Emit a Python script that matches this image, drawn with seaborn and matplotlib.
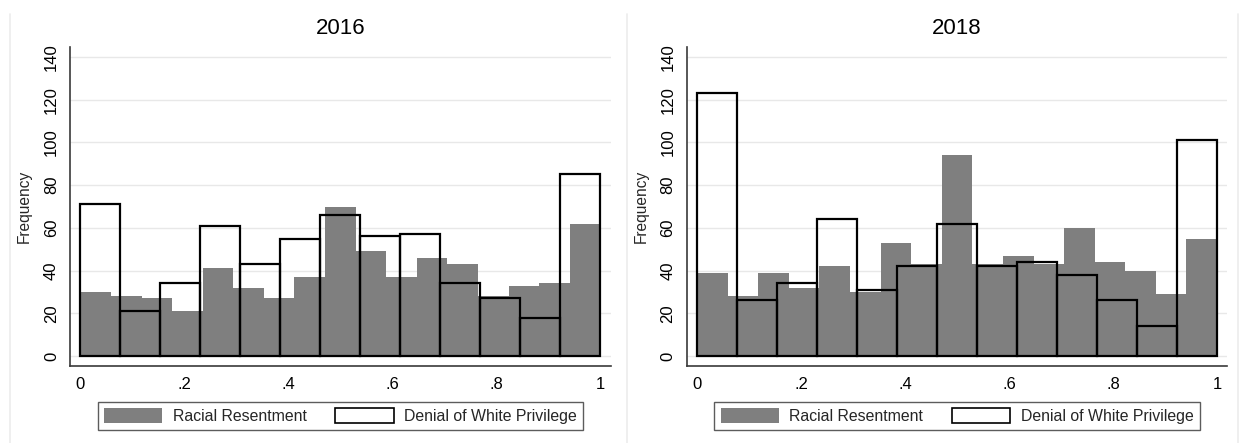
import numpy as np
import pandas as pd
import matplotlib
matplotlib.use("Agg")
import matplotlib.pyplot as plt
from matplotlib.patches import Patch
from matplotlib.lines import Line2D
import seaborn as sns

# ---- data (counts) ----
years = ["2016", "2018"]
rr_2016 = [30, 28, 27, 21, 41, 32, 27, 37, 70, 49, 37, 46, 43, 28, 33, 34, 62]
dwp_2016 = [71, 21, 34, 61, 43, 55, 66, 56, 57, 34, 27, 18, 85]
rr_2018 = [39, 28, 39, 32, 42, 30, 53, 43, 94, 43, 47, 43, 60, 44, 40, 29, 55]
dwp_2018 = [123, 26, 34, 64, 31, 42, 62, 42, 44, 38, 26, 14, 101]
series_labels = ["Racial Resentment", "Denial of White Privilege"]
xtick_vals = [0, 0.2, 0.4, 0.6, 0.8, 1.0]
xtick_labels = ["0", ".2", ".4", ".6", ".8", "1"]
ytick_vals = [0, 20, 40, 60, 80, 100, 120, 140]

sns.set_theme(style="white")
plt.rcParams["font.family"] = ["Liberation Sans", "DejaVu Sans"]

W, H = 1239, 443
fig = plt.figure(figsize=(W / 100, H / 100), dpi=100)

GRAY = "#7f7f7f"
SPINE = "#3a3a3a"

def centers(n):
    edges = np.linspace(0, 1, n + 1)
    return (edges[:-1] + edges[1:]) / 2

panels = [
    (years[0], rr_2016, dwp_2016, 70),
    (years[1], rr_2018, dwp_2018, 686.7),
]

for title, rr, dwp, left_px in panels:
    ax = fig.add_axes([left_px / W, 1 - 366 / H, 540.7 / W, 319 / H])
    ax.set_axisbelow(True)
    ax.yaxis.grid(True, color="#e8e8e8", linewidth=1.0)
    ax.xaxis.grid(False)

    df_rr = pd.DataFrame({"x": centers(len(rr)), "w": rr})
    df_dw = pd.DataFrame({"x": centers(len(dwp)), "w": dwp})
    sns.histplot(data=df_rr, x="x", weights="w", bins=len(rr), binrange=(0, 1),
                 color=GRAY, alpha=1, linewidth=0, ax=ax)
    sns.histplot(data=df_dw, x="x", weights="w", bins=len(dwp), binrange=(0, 1),
                 fill=False, color="black", linewidth=1.6, ax=ax)

    ax.set_xlim(-0.02, 1.02)
    ax.set_ylim(-4.68, 144.68)
    ax.set_xticks(xtick_vals)
    ax.set_xticklabels(xtick_labels)
    ax.set_yticks(ytick_vals)
    ax.set_yticklabels([str(v) for v in ytick_vals], rotation=90, va="center")
    ax.set_xlabel("")
    ax.set_ylabel("Frequency", fontsize=11.2)
    ax.yaxis.set_label_coords(-38 / 540.7, 0.5)

    for s in ["top", "right"]:
        ax.spines[s].set_visible(False)
    for s in ["left", "bottom"]:
        ax.spines[s].set_color(SPINE)
        ax.spines[s].set_linewidth(1.2)
    ax.tick_params(axis="both", direction="out", length=4, width=1,
                   color=SPINE, labelsize=12, labelcolor="black")
    ax.tick_params(axis="y", pad=4)
    ax.tick_params(axis="x", pad=4)

    fig.text((left_px + 540.7 / 2) / W, 1 - 28 / H, title, ha="center",
             va="center", fontsize=16, color="black")

    handles = [Patch(facecolor=GRAY, edgecolor="none"),
               Patch(facecolor="white", edgecolor="black", linewidth=1.2)]
    leg = ax.legend(handles, series_labels, loc="center",
                    bbox_to_anchor=(0.5, (366 - 416) / 319), ncol=2,
                    fontsize=11.4, frameon=True, fancybox=False,
                    handlelength=3.7, handleheight=1.05, handletextpad=0.65,
                    columnspacing=1.8, borderpad=0.4, borderaxespad=0)
    leg.get_frame().set_edgecolor("#333333")
    leg.get_frame().set_linewidth(1.0)

# faint panel borders
for xpx in [10, 626.7, 1238]:
    fig.add_artist(Line2D([xpx / W, xpx / W], [0, 1 - 14 / H],
                          color="#ececec", linewidth=1.2))

fig.savefig("out.png", dpi=100, facecolor="white")
